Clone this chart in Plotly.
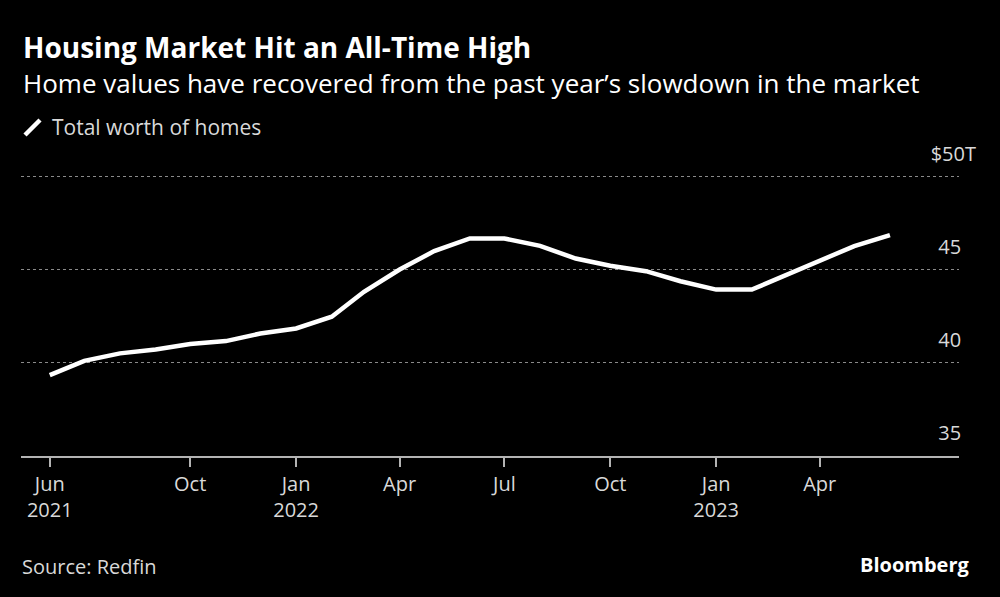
import plotly.graph_objects as go

dates = ["2021-06-01","2021-07-01","2021-08-01","2021-09-01","2021-10-01","2021-11-01","2021-12-01",
         "2022-01-01","2022-02-01","2022-03-01","2022-04-01","2022-05-01","2022-06-01","2022-07-01",
         "2022-08-01","2022-09-01","2022-10-01","2022-11-01","2022-12-01",
         "2023-01-01","2023-02-01","2023-03-01","2023-04-01","2023-05-01","2023-06-01"]
values = [39.30, 40.07, 40.47, 40.68, 40.97, 41.13, 41.54,
          41.81, 42.44, 43.78, 44.98, 45.97, 46.65, 46.65,
          46.25, 45.57, 45.18, 44.89, 44.35,
          43.90, 43.90, 44.62, 45.48, 46.24, 46.83]

x_tickvals = ["2021-06-01","2021-10-01","2022-01-01","2022-04-01","2022-07-01","2022-10-01","2023-01-01","2023-04-01"]
x_ticktext = ["Jun<br>2021","Oct","Jan<br>2022","Apr","Jul","Oct","Jan<br>2023","Apr"]
y_tickvals = [35, 40, 45, 50]
y_ticktext = ["35\u2007\u2009", "40\u2007\u2009", "45\u2007\u2009", "$50T"]

FONT = "Open Sans"
L, R, T, B = 21, 41, 139, 141
PW, PH = 1000 - L - R, 597 - T - B


def px(x):
    return (x - L) / PW


def py(y):
    return (597 - B - y) / PH


fig = go.Figure()
fig.add_trace(go.Scatter(x=dates, y=values, mode="lines",
                         line=dict(color="white", width=4.5), hoverinfo="skip", showlegend=False))

fig.update_layout(
    width=1000, height=597,
    paper_bgcolor="black", plot_bgcolor="black",
    margin=dict(l=L, r=R, t=T, b=B),
    font=dict(family=FONT, color="#d9d9d9", size=20),
    xaxis=dict(type="date", range=["2021-05-07", "2023-07-31"],
               tickvals=x_tickvals, ticktext=x_ticktext,
               showgrid=False, zeroline=False,
               showline=True, linecolor="#b3b3b3", linewidth=2,
               ticks="outside", ticklen=9, tickwidth=1.5, tickcolor="#b3b3b3",
               tickfont=dict(size=20, color="#d9d9d9", family=FONT)),
    yaxis=dict(range=[34.95, 52], side="right", tickvals=y_tickvals, ticktext=y_ticktext,
               ticklabelposition="inside top", ticks="", ticklabelshift=-8, ticklabelstandoff=-20,
               showgrid=True, gridcolor="#8a8a8a", griddash="dot", gridwidth=1,
               zeroline=False, showline=False,
               tickfont=dict(size=20, color="#d9d9d9", family=FONT)),
    shapes=[dict(type="line", xref="paper", yref="paper",
                 x0=px(25), x1=px(40), y0=py(135), y1=py(120),
                 line=dict(color="white", width=4.5))],
    annotations=[
        dict(text="<b>Housing Market Hit an All-Time High</b>", xref="paper", yref="paper",
             x=px(21), y=py(47), xanchor="left", yanchor="middle",
             showarrow=False, font=dict(size=28, color="white", family=FONT)),
        dict(text="Home values have recovered from the past year’s slowdown in the market", xref="paper", yref="paper",
             x=px(21), y=py(83), xanchor="left", yanchor="middle",
             showarrow=False, font=dict(size=26, color="white", family=FONT)),
        dict(text="Total worth of homes", xref="paper", yref="paper",
             x=px(50), y=py(127), xanchor="left", yanchor="middle",
             showarrow=False, font=dict(size=21, color="#d9d9d9", family=FONT)),
        dict(text="Source: Redfin", xref="paper", yref="paper",
             x=px(20), y=py(566), xanchor="left", yanchor="middle",
             showarrow=False, font=dict(size=20, color="#d9d9d9", family=FONT)),
        dict(text="<b>Bloomberg</b>", xref="paper", yref="paper",
             x=px(972), y=py(564), xanchor="right", yanchor="middle",
             showarrow=False, font=dict(size=20, color="white", family=FONT)),
    ],
)

fig.write_html("out.html", config={"displayModeBar": False},
               post_script="document.body.style.margin='0';document.body.style.background='black';")
